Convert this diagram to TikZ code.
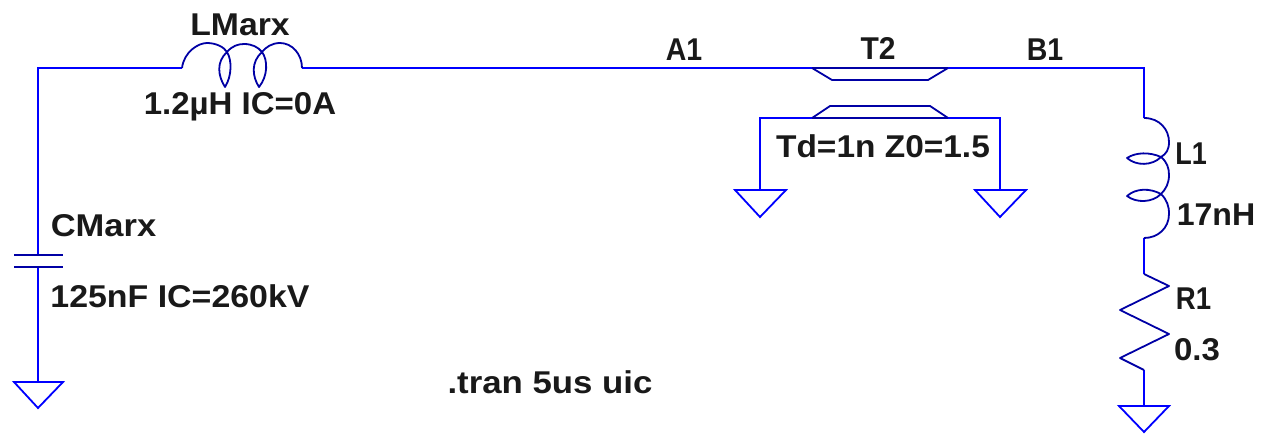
\documentclass[tikz,border=0pt]{standalone}
\usepackage{fontspec}
\usepackage{graphicx}
\setmainfont{Liberation Sans}
\definecolor{wirecol}{RGB}{0,0,255}
\definecolor{compcol}{RGB}{0,0,165}
\definecolor{txtcol}{RGB}{25,25,25}
\newcommand{\wdt}[2]{\scalebox{#1}[1.05]{#2}}
\tikzset{
  x=1pt,y=-1pt,
  wire/.style={draw=wirecol,line width=2pt,line join=miter},
  comp/.style={draw=compcol,line width=1.8pt,line join=round},
  gnd/.style={draw=wirecol,line width=1.8pt,line join=miter},
  lbl/.style={inner sep=0pt,anchor=base,text=txtcol,font=\fontsize{30}{33}\selectfont\bfseries}
}
\begin{document}
\begin{tikzpicture}
\useasboundingbox (0,0) rectangle (1268,434);
% connection points
\coordinate (cornerL) at (38,68);
\coordinate (lmA) at (182,68);
\coordinate (lmB) at (302,68);
\coordinate (t2A) at (812,68);
\coordinate (t2B) at (948,68);
\coordinate (cornerR) at (1144,68);
\coordinate (l1A) at (1144,118);
\coordinate (l1B) at (1144,238);
\coordinate (r1A) at (1144,274);
\coordinate (r1B) at (1144,370);
\coordinate (gndR) at (1144,406);
\coordinate (capT) at (38,255);
\coordinate (capB) at (38,267);
\coordinate (gndC) at (38,382);
\coordinate (t2C) at (812,118);
\coordinate (t2D) at (948,118);
\coordinate (shL) at (760,118);
\coordinate (shR) at (1000,118);
\coordinate (gndTL) at (760,190);
\coordinate (gndTR) at (1000,190);
% wires
\draw[wire] (capT) -- (cornerL) -- (lmA);
\draw[wire] (lmB) -- (t2A);
\draw[wire] (t2B) -- (cornerR) -- (l1A);
\draw[wire] (l1B) -- (r1A);
\draw[wire] (r1B) -- (gndR);
\draw[wire] (capB) -- (gndC);
\draw[wire] (t2C) -- (shL) -- (gndTL);
\draw[wire] (t2D) -- (shR) -- (gndTR);
% grounds
\draw[gnd] (14,382) -- (63,382) -- (38,408) -- cycle;
\draw[gnd] (735,190) -- (786,190) -- (760,217) -- cycle;
\draw[gnd] (975,190) -- (1026,190) -- (1000,217) -- cycle;
\draw[gnd] (1119,406) -- (1169,406) -- (1144,432) -- cycle;
% capacitor
\draw[comp] (14,255) -- (63,255);
\draw[comp] (14,267) -- (63,267);
% LMarx
\draw[comp] (lmA) .. controls (184,52) and (198,43) .. (207,43)
  .. controls (216,43) and (224,47) .. (227,52)
  .. controls (232,60) and (232,76) .. (225,87)
  .. controls (218,76) and (216,62) .. (227,52)
  .. controls (232,46) and (238,44) .. (244,44)
  .. controls (252,44) and (258,47) .. (262,52)
  .. controls (268,60) and (268,76) .. (259,87)
  .. controls (252,76) and (251,62) .. (262,52)
  .. controls (266,47) and (272,43) .. (280,43)
  .. controls (292,43) and (302,54) .. (lmB);
% L1
\draw[comp] (l1A) .. controls (1160,118) and (1169,130) .. (1169,142)
  .. controls (1169,150) and (1166,154) .. (1161,157)
  .. controls (1150,152) and (1136,152) .. (1127,158)
  .. controls (1136,166) and (1152,166) .. (1161,157)
  .. controls (1167,162) and (1169,168) .. (1169,175)
  .. controls (1169,183) and (1166,189) .. (1161,194)
  .. controls (1150,188) and (1136,188) .. (1127,196)
  .. controls (1136,203) and (1152,203) .. (1161,194)
  .. controls (1167,200) and (1169,206) .. (1169,214)
  .. controls (1169,228) and (1158,238) .. (l1B);
% R1
\draw[comp] (r1A) -- (1169,286) -- (1120,310) -- (1169,334) -- (1120,358) -- (r1B);
% T2
\draw[comp] (t2A) -- (t2B);
\draw[comp] (t2A) -- (832,80) -- (928,80) -- (t2B);
\draw[comp] (t2C) -- (t2D);
\draw[comp] (t2C) -- (830,106) -- (930,106) -- (t2D);
% labels
\node[lbl] (tLMarx) at (240,35.5) {\wdt{1.125}{LMarx}};
\node[lbl] (tLMval) at (240,114) {\wdt{1.10}{1.2µH IC=0A}};
\node[lbl] (tA1) at (684,60) {\wdt{0.95}{A1}};
\node[lbl] (tT2) at (878,59) {\wdt{1}{T2}};
\node[lbl] (tB1) at (1045,60) {\wdt{0.95}{B1}};
\node[lbl] (tT2val) at (883,157.5) {\wdt{1.115}{Td=1n Z0=1.5}};
\node[lbl] (tCMarx) at (103.5,236.5) {\wdt{1.15}{CMarx}};
\node[lbl] (tCval) at (180,307.5) {\wdt{1.13}{125nF IC=260kV}};
\node[lbl] (tL1) at (1191,164.5) {\wdt{0.9}{L1}};
\node[lbl] (tL1val) at (1216,225) {\wdt{1.07}{17nH}};
\node[lbl] (tR1) at (1193.5,309) {\wdt{0.92}{R1}};
\node[lbl] (tR1val) at (1197,360.5) {\wdt{1.1}{0.3}};
\node[lbl] (tTran) at (550,393) {\wdt{1.16}{.tran 5us uic}};
\end{tikzpicture}
\end{document}
